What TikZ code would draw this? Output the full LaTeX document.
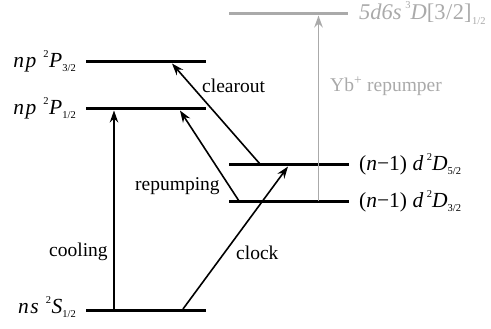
\documentclass[tikz,border=0pt]{standalone}
\usepackage{fontspec}
\setmainfont{Liberation Serif}
\usetikzlibrary{arrows.meta}
\definecolor{lgray}{RGB}{170,170,170}
\newcommand\smallidx[1]{{\fontsize{10.5}{10.5}\selectfont #1}}
\newcommand\mysup[1]{\raisebox{1.05ex}{\smallidx{#1}}}
\newcommand\mysub[1]{\raisebox{-0.45ex}{\smallidx{#1}}}
\begin{document}
\begin{tikzpicture}[x=1pt,y=-1pt,
  level/.style={line width=3pt},
  glevel/.style={line width=3pt,draw=lgray},
  trans/.style={line width=1.6pt,-{Stealth[length=12pt,width=8.5pt]}},
  gtrans/.style={line width=1.6pt,draw=lgray,-{Stealth[length=12pt,width=8.5pt]}},
  lab/.style={inner sep=0pt,font=\fontsize{21.5}{23}\selectfont},
  tlab/.style={inner sep=0pt,font=\fontsize{19.5}{22}\selectfont}]
\useasboundingbox (0,0) rectangle (491,329);
% levels
\coordinate (P3a) at (86,62);  \coordinate (P3b) at (206,62);
\coordinate (P1a) at (86,109); \coordinate (P1b) at (206,109);
\coordinate (Sa) at (86,310);  \coordinate (Sb) at (206,310);
\coordinate (D5a) at (229,165); \coordinate (D5b) at (349,165);
\coordinate (D3a) at (229,202); \coordinate (D3b) at (349,202);
\coordinate (Ga) at (229,14);  \coordinate (Gb) at (348,14);
\draw[level] (P3a) -- (P3b);
\draw[level] (P1a) -- (P1b);
\draw[level] (Sa) -- (Sb);
\draw[level] (D5a) -- (D5b);
\draw[level] (D3a) -- (D3b);
\draw[glevel] (Ga) -- (Gb);
% transition end points
\coordinate (coolS) at (114,309);  \coordinate (coolP) at (114,110.5);
\coordinate (clockS) at (183,309); \coordinate (clockD) at (288,166.5);
\coordinate (repD) at (239,201);   \coordinate (repP) at (180,110.5);
\coordinate (clrD) at (260,164);   \coordinate (clrP) at (172,63.5);
\coordinate (ybD) at (318.5,201);  \coordinate (ybG) at (318.5,15.5);
\draw[trans] (coolS) -- (coolP);
\draw[trans] (clockS) -- (clockD);
\draw[trans] (repD) -- (repP);
\draw[trans] (clrD) -- (clrP);
\draw[gtrans] (ybD) -- (ybG);
% level labels
\node[lab,anchor=east] (lP3) at (76,61) {\textit{n\kern1.5pt p}\,\,\mysup{2}\kern0.5pt\textit{P}\mysub{3/2}};
\node[lab,anchor=east] (lP1) at (76,108) {\textit{n\kern1.5pt p}\,\,\mysup{2}\kern0.5pt\textit{P}\mysub{1/2}};
\node[lab,anchor=east] (lS) at (76,307) {\textit{n\kern1.5pt s}\,\,\mysup{2}\kern0.5pt\textit{S}\mysub{1/2}};
\node[lab,anchor=west] (lD5) at (359,164) {(\textit{n}−1)~\textit{d}\,\mysup{2}\textit{D}\mysub{5/2}};
\node[lab,anchor=west] (lD3) at (359,201) {(\textit{n}−1)~\textit{d}\,\mysup{2}\textit{D}\mysub{3/2}};
\node[lab,anchor=west,text=lgray,font=\fontsize{22.5}{24}\selectfont] (lG) at (359,13) {\textit{5d6s}\,\mysup{3}\textit{D}[3\kern0.5pt/\kern0.5pt2]\kern0.5pt\mysub{1/2}};
% transition labels
\node[tlab,anchor=west] (tclr) at (202,86) {clearout};
\node[tlab,anchor=west,text=lgray] (tyb) at (330,86) {Yb\textsuperscript{+} repumper};
\node[tlab,anchor=west] (trep) at (135,186) {repumping};
\node[tlab,anchor=west] (tcool) at (49,252) {cooling};
\node[tlab,anchor=west] (tclock) at (236,253) {clock};
\end{tikzpicture}
\end{document}
